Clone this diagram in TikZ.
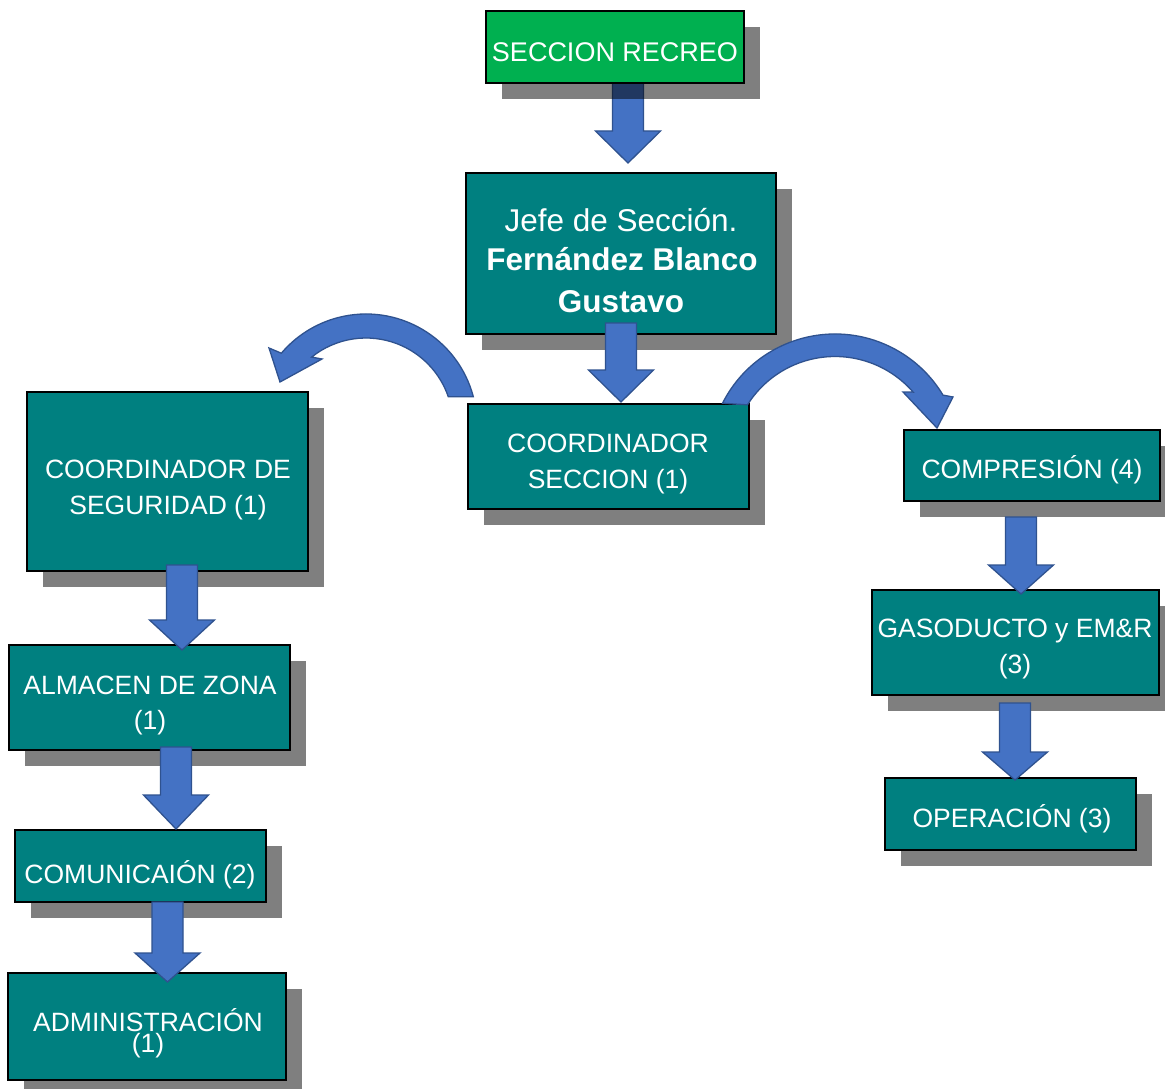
\documentclass[tikz,border=0pt]{standalone}
\usepackage{fontspec}
\setmainfont{Liberation Sans}
\definecolor{tealc}{HTML}{008080}
\definecolor{greenc}{HTML}{00B050}
\definecolor{arrowblue}{HTML}{4472C4}
\definecolor{arrowedge}{HTML}{2F528F}
\tikzset{
  box/.style={draw=black, line width=2.2pt, fill=tealc, inner sep=0pt, outer sep=0pt},
  shadowc/.style={fill=black, fill opacity=0.5},
  lbl/.style={text=white, inner sep=0pt, anchor=base, font=\fontsize{26.5}{30}\selectfont},
  biglbl/.style={lbl, font=\fontsize{31.5}{36}\selectfont},
  barrow/.style={fill=arrowblue, draw=arrowedge, line width=1.3pt, line join=miter},
}
% name, cx, cy, w, h ; optional fill colour
\newcommand\orgbox[6][tealc]{%
  \fill[shadowc] ({#3-#5/2+16},{#4-#6/2-16}) rectangle ({#3+#5/2+16},{#4+#6/2-16});
  \node[box, fill=#1, minimum width=#5pt, minimum height=#6pt] (#2) at (#3,#4) {};
}
% x, ytop, yheadbase, ytip (pixel rows, downward)
\newcommand\downarr[4]{%
  \filldraw[barrow] ({#1-15.5},-#2) -- ({#1+15.5},-#2) -- ({#1+15.5},-#3) -- ({#1+32.5},-#3)
    -- (#1,-#4) -- ({#1-32.5},-#3) -- ({#1-15.5},-#3) -- cycle;
}
\begin{document}
\begin{tikzpicture}[x=1pt,y=1pt]
\useasboundingbox (0,0) rectangle (1165,-1089);
\fill[white] (0,0) rectangle (1165,-1089);

% arrow under the first shadow
\downarr{628}{80}{131}{163}

% boxes with shadows
\orgbox[greenc]{R}{615}{-47}{258}{72}
\orgbox{J}{621}{-253.5}{310}{161}
\orgbox{CS}{608.5}{-456.5}{281}{105}
\orgbox{SEG}{167.5}{-481.5}{281}{179}
\orgbox{ALM}{149.5}{-697.5}{281}{105}
\orgbox{COM}{140.5}{-866}{251}{72}
\orgbox{ADM}{147}{-1026.5}{278}{107}
\orgbox{CMP}{1032}{-465.5}{256}{71}
\orgbox{GAS}{1015.5}{-642.5}{287}{105}
\orgbox{OPE}{1010.5}{-814}{251}{72}

% labels
\node[lbl, font=\fontsize{27}{30}\selectfont] (tR) at (615,-61.5) {SECCION RECREO};
\node[biglbl] (tJ1) at (621,-231) {Jefe de Sección.};
\node[biglbl, font=\fontsize{31.5}{36}\bfseries] (tJ2) at (622,-270.5) {Fernández Blanco};
\node[biglbl, font=\fontsize{31.5}{36}\bfseries] (tJ3) at (621,-312) {Gustavo};
\node[lbl] (tCS1) at (608,-452.5) {COORDINADOR};
\node[lbl] (tCS2) at (608,-488.5) {SECCION (1)};
\node[lbl] (tS1) at (168,-478.5) {COORDINADOR DE};
\node[lbl] (tS2) at (168,-514.5) {SEGURIDAD (1)};
\node[lbl] (tA1) at (150,-694) {ALMACEN DE ZONA};
\node[lbl] (tA2) at (150,-729.5) {(1)};
\node[lbl] (tC1) at (140,-883) {COMUNICAIÓN (2)};
\node[lbl] (tD1) at (148,-1031) {ADMINISTRACIÓN};
\node[lbl] (tD2) at (148,-1052) {(1)};
\node[lbl] (tP1) at (1032,-478.5) {COMPRESIÓN (4)};
\node[lbl] (tG1) at (1015,-637.5) {GASODUCTO y EM\&R};
\node[lbl] (tG2) at (1015,-673) {(3)};
\node[lbl] (tO1) at (1012,-827.5) {OPERACIÓN (3)};

% straight block arrows
\downarr{621}{323}{370}{402}
\downarr{182}{565}{620}{650}
\downarr{176}{747}{795}{829}
\downarr{167.5}{902}{953}{982}
\downarr{1021}{517}{565}{594}
\downarr{1015}{703}{752}{780}

% curved arrow to the left
\filldraw[barrow] ([shift={(366,-425)}]14.7:111) arc[start angle=14.7, end angle=139.7, radius=111]
  -- (269,-348) -- (280,-382) -- (322,-359)
  -- ([shift={(366,-425)}]128.7:87) arc[start angle=128.7, end angle=18.9, radius=87] -- cycle;

% curved arrow to the right
\filldraw[barrow] ([shift={(835,-460)}]153.2:126) arc[start angle=153.2, end angle=31, radius=126]
  -- (953,-397) -- (937,-428) -- (903,-392)
  -- ([shift={(835,-460)}]41:103.5) arc[start angle=41, end angle=147.8, radius=103.5] -- cycle;
\end{tikzpicture}
\end{document}
